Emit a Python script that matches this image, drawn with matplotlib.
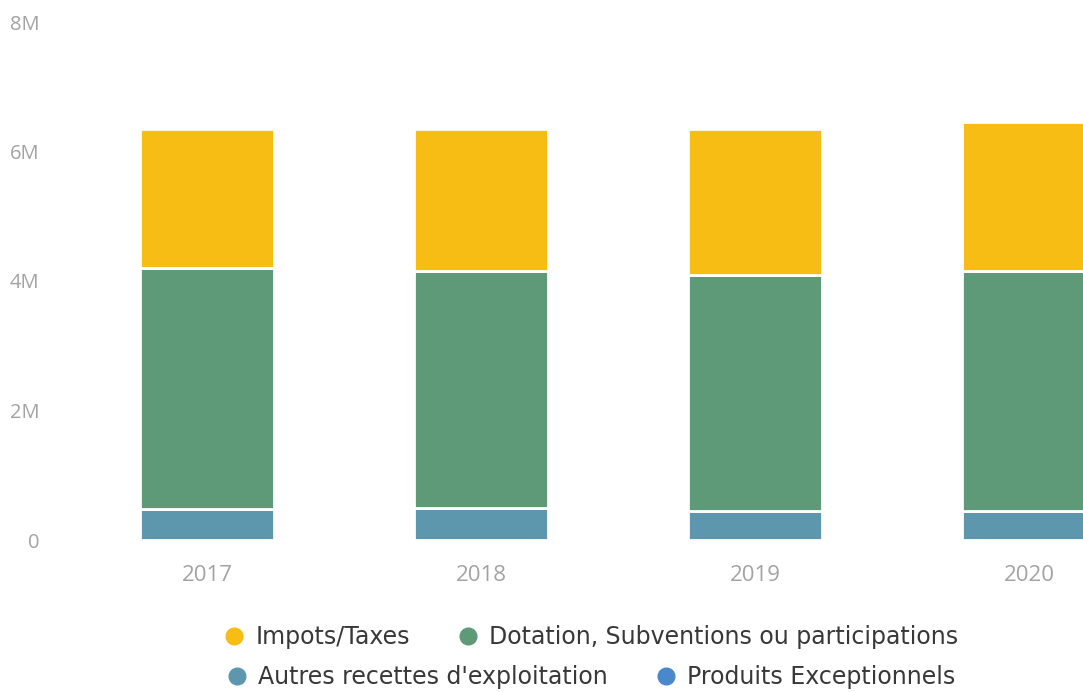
import matplotlib
matplotlib.use("Agg")
import matplotlib.pyplot as plt
from matplotlib.lines import Line2D
from matplotlib.ticker import FuncFormatter

years = ["2017", "2018", "2019", "2020"]
autres = [0.48, 0.50, 0.45, 0.45]
dotation = [3.72, 3.65, 3.65, 3.70]
impots = [2.15, 2.20, 2.25, 2.30]
produits = [0.0, 0.0, 0.0, 0.0]

series = ["Impots/Taxes", "Dotation, Subventions ou participations",
          "Autres recettes d'exploitation", "Produits Exceptionnels"]
colors = {"Impots/Taxes": "#f7bd14",
          "Dotation, Subventions ou participations": "#5f9a78",
          "Autres recettes d'exploitation": "#5c97ae",
          "Produits Exceptionnels": "#4a88cc"}

plt.rcParams['font.family'] = ['Open Sans', 'DejaVu Sans']

fig = plt.figure(figsize=(10.83, 6.92), dpi=100)
ax = fig.add_axes([48 / 1083, 152 / 692, 1 - 48 / 1083, 518 / 692])

x = range(len(years))
w = 0.49
bottom = [0.0] * len(years)
for name, vals in [("Produits Exceptionnels", produits),
                   ("Autres recettes d'exploitation", autres),
                   ("Dotation, Subventions ou participations", dotation),
                   ("Impots/Taxes", impots)]:
    ax.bar(x, vals, w, bottom=bottom, color=colors[name],
           edgecolor="white", linewidth=2)
    bottom = [b + v for b, v in zip(bottom, vals)]

ax.set_ylim(0, 8)
ax.set_xlim((48 - 207) / 274, (1083 - 207) / 274)
ax.set_yticks([0, 2, 4, 6, 8])
ax.yaxis.set_major_formatter(FuncFormatter(lambda v, p: "0" if v == 0 else f"{v:.0f}M"))
ax.set_xticks(list(x))
ax.set_xticklabels(years)
ax.tick_params(axis="both", length=0, labelsize=14.5, labelcolor="#a3a3a3")
ax.tick_params(axis="x", labelsize=16, pad=18)
ax.tick_params(axis="y", pad=6)
for s in ax.spines.values():
    s.set_visible(False)

def handle(name):
    return Line2D([], [], marker="o", linestyle="", markersize=12,
                  markerfacecolor=colors[name], markeredgecolor=colors[name])

for row, ypos in [(series[:2], 637 / 692), (series[2:], 677 / 692)]:
    fig.legend([handle(n) for n in row], row, ncol=2, loc="center",
               bbox_to_anchor=(592 / 1083, 1 - ypos), frameon=False,
               prop={"family": "DejaVu Sans", "size": 17},
               handlelength=0.7, handletextpad=0.55, columnspacing=2.1,
               labelcolor="#383838")

fig.savefig("out.png", dpi=100)
